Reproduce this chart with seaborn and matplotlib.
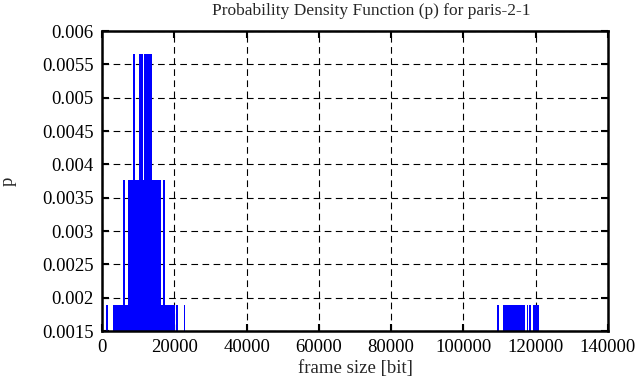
import matplotlib
matplotlib.use('Agg')
import matplotlib.pyplot as plt
import seaborn as sns
import numpy as np
import pandas as pd

# wartosci: poczatek i koniec przedzialu rozmiarow ramek [bit] oraz p
seg_start = [1100, 2960, 20600, 22600,
             5800, 7110, 16900,
             8700, 10150, 11620,
             109350, 110870, 117550, 118250, 119170]
seg_end = [1600, 20120, 21100, 23100,
           6300, 16240, 17400,
           9250, 11350, 13830,
           109850, 117040, 118000, 118700, 120830]
seg_p = [0.001883, 0.001883, 0.001883, 0.001883,
         0.003766, 0.003766, 0.003766,
         0.005649, 0.005649, 0.005649,
         0.001883, 0.001883, 0.001883, 0.001883, 0.001883]

x_ticks = [0, 20000, 40000, 60000, 80000, 100000, 120000, 140000]
y_ticks = [0.0015, 0.002, 0.0025, 0.003, 0.0035, 0.004, 0.0045, 0.005, 0.0055, 0.006]
y_labels = ['0.0015', '0.002', '0.0025', '0.003', '0.0035', '0.004', '0.0045', '0.005', '0.0055', '0.006']

data = pd.DataFrame({'start': seg_start, 'end': seg_end, 'p': seg_p})
data['width'] = data['end'] - data['start']

sns.set_style('white')
plt.rcParams['font.family'] = ['Liberation Serif', 'DejaVu Serif']

fig = plt.figure(figsize=(6.41, 3.87), dpi=100)
ax = fig.add_axes([102/641, 1-331/387, 506/641, 300/387])

ax.bar(data['start'], data['p'], width=data['width'], align='edge', color='#0000ff',
       edgecolor='none', zorder=3)

ax.set_xlim(0, 140000)
ax.set_ylim(0.0015, 0.006)
ax.set_xticks(x_ticks, labels=[str(t) for t in x_ticks])
ax.set_yticks(y_ticks, labels=y_labels)
ax.grid(True, color='black', linestyle=(0, (6, 4)), linewidth=0.8, zorder=1)
ax.tick_params(direction='in', length=5, width=1.5, labelsize=13.5, top=True, right=True,
               bottom=True, left=True, colors='black', pad=6)
for s in ax.spines.values():
    s.set_visible(True)
    s.set_linewidth(1.8)
    s.set_color('black')
    s.set_zorder(5)

fig.text(371/641, 1-11/387, 'Probability Density Function (p) for paris-2-1', fontsize=12.5,
         ha='center', va='center')
ax.set_xlabel('frame size [bit]', fontsize=13.5, labelpad=3)
ax.set_ylabel('p', fontsize=13.5, labelpad=18)

fig.savefig('out.png', dpi=100)
